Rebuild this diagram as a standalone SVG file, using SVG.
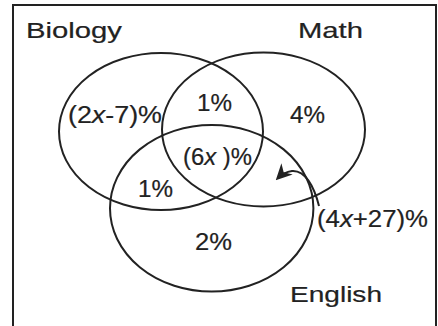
<svg xmlns="http://www.w3.org/2000/svg" width="438" height="326" viewBox="0 0 438 326">
<style>
.set{fill:none;stroke:#222;stroke-width:2}
.t{font-family:"Liberation Sans",Arial,sans-serif;fill:#222;stroke:#222;stroke-width:0.2}
.name{font-size:22px}
.num{font-size:23px}
.it{font-style:italic}
.conn{fill:none;stroke:#222;stroke-width:2}
</style>
<defs>
<marker id="ah" viewBox="0 0 10 10" refX="8" refY="5" markerWidth="8" markerHeight="8" orient="auto" markerUnits="strokeWidth">
<path d="M0,0 L10,5 L0,10 L3,5 Z" fill="#222"/>
</marker>
</defs>
<rect x="13" y="5" width="423" height="340" fill="none" stroke="#222" stroke-width="2"/>
<g id="biology">
<ellipse class="set" cx="161" cy="131.5" rx="102" ry="78.5"/>
<text class="t name" x="26" y="38" textLength="96" lengthAdjust="spacingAndGlyphs">Biology</text>
</g>
<g id="math">
<ellipse class="set" cx="263.5" cy="129.5" rx="101.5" ry="77"/>
<text class="t name" x="298" y="38" textLength="65" lengthAdjust="spacingAndGlyphs">Math</text>
</g>
<g id="english">
<ellipse class="set" cx="211.7" cy="208.3" rx="101.7" ry="83.3"/>
<text class="t name" x="290" y="302" textLength="92" lengthAdjust="spacingAndGlyphs">English</text>
</g>
<g id="regions">
<text class="t num" x="68" y="123" textLength="94" lengthAdjust="spacingAndGlyphs">(2<tspan class="it">x</tspan>-7)%</text>
<text class="t num" x="197" y="111" textLength="35" lengthAdjust="spacingAndGlyphs">1%</text>
<text class="t num" x="290" y="123" textLength="35" lengthAdjust="spacingAndGlyphs">4%</text>
<text class="t num" x="183" y="165" textLength="69" lengthAdjust="spacingAndGlyphs">(6<tspan class="it">x</tspan> )%</text>
<text class="t num" x="138" y="197" textLength="35" lengthAdjust="spacingAndGlyphs">1%</text>
<text class="t num" x="195" y="250" textLength="37" lengthAdjust="spacingAndGlyphs">2%</text>
<text class="t num" x="317" y="227" textLength="111" lengthAdjust="spacingAndGlyphs">(4<tspan class="it">x</tspan>+27)%</text>
</g>
<g id="connectors">
<path class="conn" d="M 319 206 C 314 186 305 170 292 171 C 285 172 281 175 278 178" marker-end="url(#ah)"/>
</g>
</svg>
